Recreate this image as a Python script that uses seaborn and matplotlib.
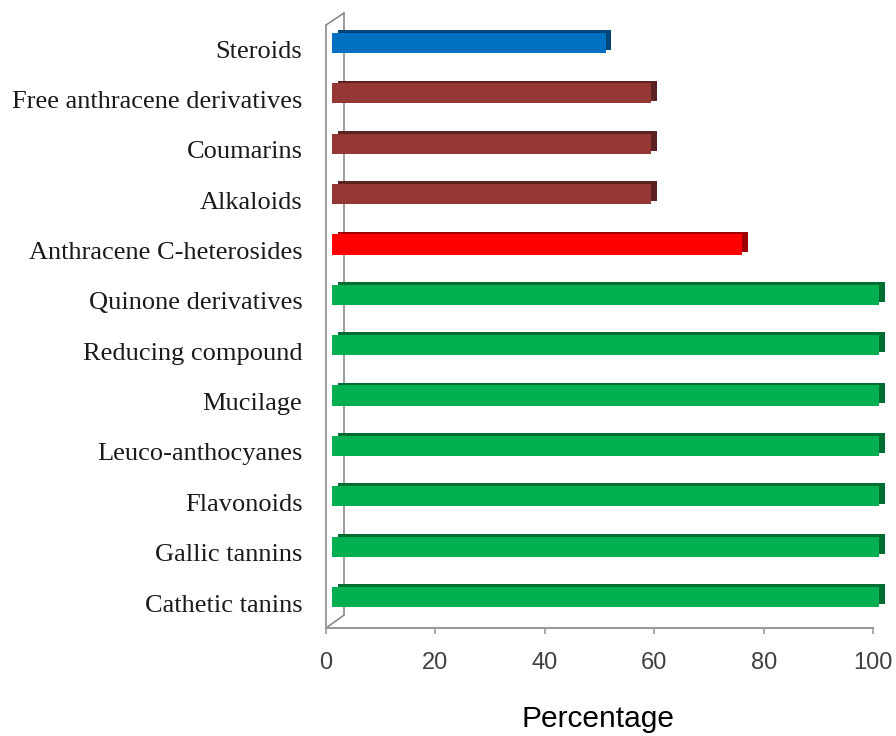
import matplotlib
matplotlib.use("Agg")
import matplotlib.pyplot as plt
import matplotlib.transforms as mtransforms
import matplotlib.patheffects as pe
import matplotlib.colors as mcolors
import seaborn as sns
import pandas as pd

categories = ["Steroids", "Free anthracene derivatives", "Coumarins", "Alkaloids",
              "Anthracene C-heterosides", "Quinone derivatives", "Reducing compound",
              "Mucilage", "Leuco-anthocyanes", "Flavonoids", "Gallic tannins",
              "Cathetic tanins"]
values = [50, 58.3, 58.3, 58.3, 75, 100, 100, 100, 100, 100, 100, 100]
bar_colors = ["#0070C0", "#953735", "#953735", "#953735", "#FF0000",
              "#00B050", "#00B050", "#00B050", "#00B050", "#00B050", "#00B050", "#00B050"]
xticks = [0, 20, 40, 60, 80, 100]
xlabel = "Percentage"

sns.set_style("white")
plt.rcParams['font.family'] = ['Liberation Sans', 'DejaVu Sans']

fig = plt.figure(figsize=(8.96, 7.36), dpi=100)
ax = fig.add_axes([326/896, (736-628)/736, 561/896, 615/736])

df = pd.DataFrame({"Category": categories, "Percentage": values})
sns.barplot(data=df, y="Category", x="Percentage", hue="Category",
            palette=dict(zip(categories, bar_colors)), order=categories,
            orient="h", width=0.40, legend=False, ax=ax, saturation=1)

shift = mtransforms.ScaledTranslation(0.06, 0.06, fig.dpi_scale_trans)
for p in ax.patches:
    fc = mcolors.to_rgb(p.get_facecolor())
    dark = tuple(c * 0.62 for c in fc)
    p.set_transform(ax.transData + shift)
    p.set_edgecolor('none')
    p.set_path_effects([pe.SimplePatchShadow(offset=(4, 2), shadow_rgbFace=dark, alpha=1.0),
                        pe.Normal()])

ax.set_xlim(0, 102.5)
ax.set_ylim(11.496, -0.715)

for s in ["top", "right", "left"]:
    ax.spines[s].set_visible(False)
ax.spines["bottom"].set_bounds(0, 100)
ax.spines["bottom"].set_color("#9a9a9a")
ax.spines["bottom"].set_linewidth(1.5)

wall = "#8a8a8a"
bx = 18/561
ax.plot([0, 0], [0, 0.9805], transform=ax.transAxes, clip_on=False, color=wall, lw=1.2)
ax.plot([bx, bx], [0.021, 1.0], transform=ax.transAxes, clip_on=False, color=wall, lw=1.2, zorder=0)
ax.plot([0, bx], [0.9805, 1.0], transform=ax.transAxes, clip_on=False, color=wall, lw=1.2)
ax.plot([0, bx], [0, 0.021], transform=ax.transAxes, clip_on=False, color=wall, lw=1.2)

ax.set_xticks(xticks)
ax.set_xticklabels([str(t) for t in xticks])
ax.tick_params(axis='x', bottom=True, length=4.3, width=1.2, color="#9a9a9a",
               pad=13, labelsize=17, labelcolor="#404040", direction='out')
ax.tick_params(axis='y', left=False, length=0, pad=17, labelsize=19, labelcolor="#1a1a1a")
for lbl in ax.get_yticklabels():
    lbl.set_fontfamily(['Liberation Serif', 'DejaVu Serif'])

ax.set_ylabel("")
ax.set_xlabel(xlabel, fontsize=21.5, color="black")
ax.xaxis.set_label_coords(0.485, -0.125)

fig.savefig("out.png", dpi=100)
